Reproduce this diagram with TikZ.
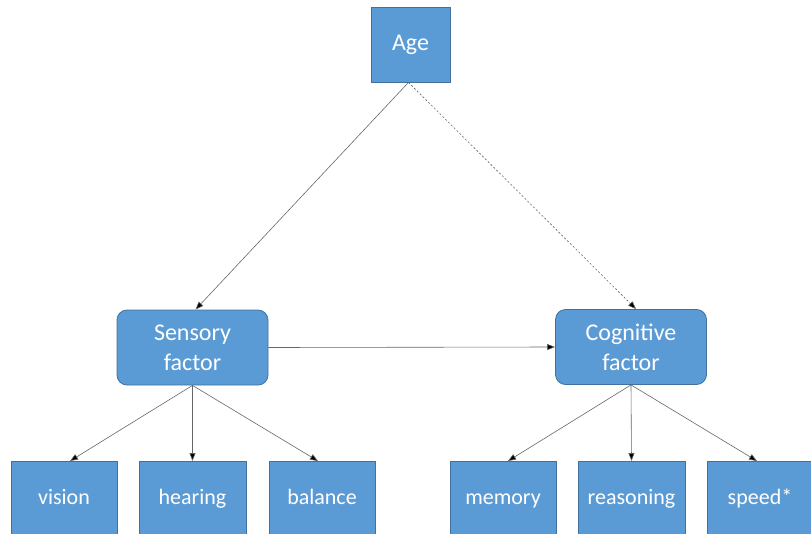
\documentclass[tikz,border=0pt]{standalone}
\usepackage{fontspec}
\setmainfont{Carlito}
\usetikzlibrary{arrows.meta}
\definecolor{boxfill}{HTML}{5B9BD5}
\definecolor{boxline}{HTML}{41719C}
\begin{document}
\begin{tikzpicture}[x=1pt,y=-1pt,
  box/.style={draw=boxline,fill=boxfill,line width=0.8pt,text=white,font=\fontsize{24}{30}\selectfont,align=center,inner sep=0pt},
  rbox/.style={box,rounded corners=10pt,minimum width=151pt,minimum height=75pt},
  leaf/.style={box,font=\fontsize{22}{26}\selectfont,text height=15pt,text depth=5pt,minimum width=106pt,minimum height=76pt,anchor=north},
  link/.style={draw=black!60,line width=0.6pt,-{Triangle[length=8pt,width=6pt,fill=black]}}]
\useasboundingbox (0,0) rectangle (811,533);
\begin{scope}
\clip (0,0) rectangle (811,533);
\node[box,minimum width=79pt,minimum height=75pt] (age) at (410.5,44.5) {Age};
\node[rbox] (sens) at (192.5,347.5) {Sensory\\factor};
\node[rbox] (cog) at (631,347) {Cognitive\\factor};
\node[leaf] (vis) at (64,461) {vision};
\node[leaf,minimum width=107pt] (hear) at (192.5,461) {hearing};
\node[leaf] (bal) at (322,461) {balance};
\node[leaf] (mem) at (503,461) {memory};
\node[leaf,minimum width=107pt] (rea) at (631.5,461) {reasoning};
\node[leaf] (spd) at (760,461) {speed*};
\end{scope}
\draw[link] (age.south) ++(-2,0) coordinate (a1) -- ([xshift=3pt]sens.north);
\draw[link,dashed,dash pattern=on 2pt off 2pt] (a1) -- ([xshift=5pt]cog.north);
\draw[link] (sens.east) -- (cog.west);
\draw[link] (sens.south) -- ([xshift=6pt]vis.north);
\draw[link] (sens.south) -- (hear.north);
\draw[link] (sens.south) -- ([xshift=-4pt]bal.north);
\draw[link] (cog.south) -- ([xshift=5pt]mem.north);
\draw[link] (cog.south) -- (rea.north);
\draw[link] (cog.south) -- ([xshift=-3pt]spd.north);
\end{tikzpicture}
\end{document}
